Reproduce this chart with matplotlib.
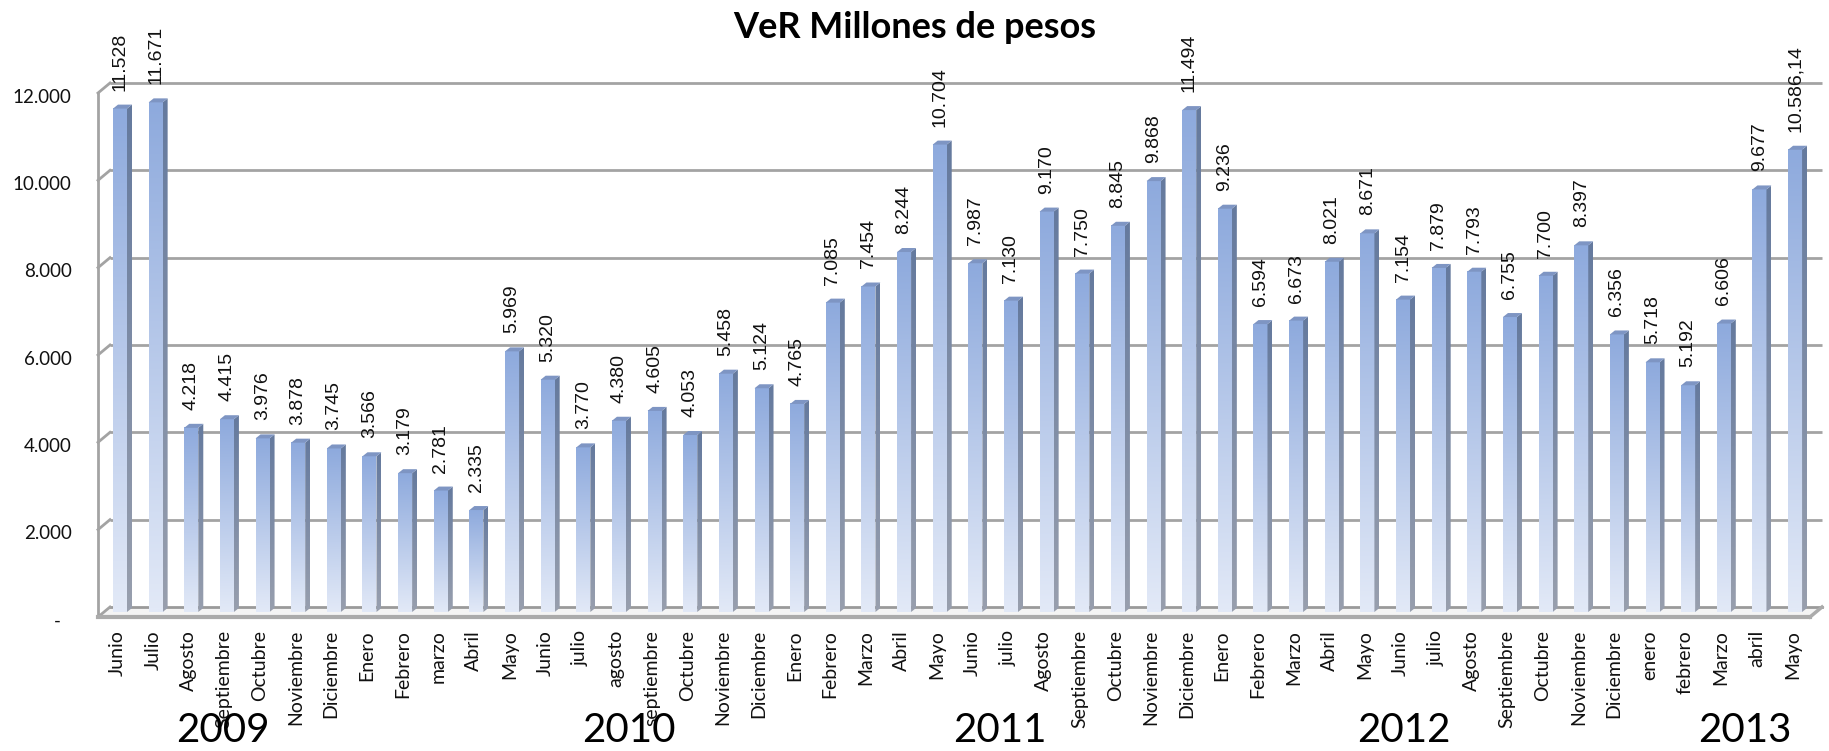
import numpy as np
import matplotlib
matplotlib.use("Agg")
import matplotlib.pyplot as plt
from matplotlib.patches import Polygon
from matplotlib.colors import to_rgb

# ---------------- data ----------------
months = ["Junio", "Julio", "Agosto", "Septiembre", "Octubre", "Noviembre", "Diciembre",
          "Enero", "Febrero", "marzo", "Abril", "Mayo", "Junio", "julio", "agosto",
          "septiembre", "Octubre", "Noviembre", "Diciembre",
          "Enero", "Febrero", "Marzo", "Abril", "Mayo", "Junio", "julio", "Agosto",
          "Septiembre", "Octubre", "Noviembre", "Diciembre",
          "Enero", "Febrero", "Marzo", "Abril", "Mayo", "Junio", "julio", "Agosto",
          "Septiembre", "Octubre", "Noviembre", "Diciembre",
          "enero", "febrero", "Marzo", "abril", "Mayo"]
values = [11528, 11671, 4218, 4415, 3976, 3878, 3745,
          3566, 3179, 2781, 2335, 5969, 5320, 3770, 4380, 4605, 4053, 5458, 5124,
          4765, 7085, 7454, 8244, 10704, 7987, 7130, 9170, 7750, 8845, 9868, 11494,
          9236, 6594, 6673, 8021, 8671, 7154, 7879, 7793, 6755, 7700, 8397, 6356,
          5718, 5192, 6606, 9677, 10586.14]
years = ["2009", "2010", "2011", "2012", "2013"]
yticks = [0, 2000, 4000, 6000, 8000, 10000, 12000]
title = "VeR Millones de pesos"


def fmt(v):
    if float(v).is_integer():
        return f"{int(v):,}".replace(",", ".")
    s = f"{v:,.2f}"
    return s.replace(",", "X").replace(".", ",").replace("X", ".")


def tick_fmt(v):
    return "-" if v == 0 else f"{int(v):,}".replace(",", ".")


# ---------------- layout ----------------
W, H, DPI = 1829, 751, 100
FONT = ["Lato", "DejaVu Sans"]
fig = plt.figure(figsize=(W / DPI, H / DPI), dpi=DPI)

px_left, px_right = 104, 1816     # mid plane x range (pixels)
px_y0, px_ytop = 612, 88           # mid plane y of 0 and 12000 (pixels from top)
ax = fig.add_axes([px_left / W, (H - px_y0) / H,
                   (px_right - px_left) / W, (px_y0 - px_ytop) / H])
ax.set_axis_off()

pitch = 35.64
first_c = 120
xl = (px_left - first_c) / pitch
xr = (px_right - first_c) / pitch
ymax = 12000
ppu_y = (px_y0 - px_ytop) / ymax   # pixels per unit y


def dx(px):
    return px / pitch


def dy(px):
    return px / ppu_y


# depth offsets: back plane and front plane relative to mid
bx, by = dx(6), dy(5)
fx, fy = -dx(6), -dy(5)

grid_c = "#a3a3a3"
# back wall gridlines + left diagonals
for t in yticks[1:]:
    ax.plot([xl + bx, xr + bx], [t + by, t + by], color=grid_c, lw=2, zorder=1,
            clip_on=False, solid_capstyle="butt")
    ax.plot([xl + fx, xl + bx], [t + fy, t + by], color=grid_c, lw=2, zorder=1,
            clip_on=False)
# floor
ax.plot([xl + bx, xr + bx], [0 + by, 0 + by], color="#9a9a9a", lw=2, zorder=1, clip_on=False)
ax.plot([xl + fx, xr + fx], [0 + fy, 0 + fy], color="#ababab", lw=3, zorder=6, clip_on=False)
ax.plot([xl + fx, xl + bx], [0 + fy, 0 + by], color=grid_c, lw=2, zorder=1, clip_on=False)
ax.plot([xr + fx, xr + bx], [0 + fy, 0 + by], color="#ababab", lw=2.5, zorder=6, clip_on=False)
# floor fill
ax.add_patch(Polygon([(xl + fx, fy), (xr + fx, fy), (xr + bx, by), (xl + bx, by)],
                     closed=True, facecolor="#f4f4f4", edgecolor="none", zorder=0.5,
                     clip_on=False))
# front vertical axis
ax.plot([xl + fx, xl + fx], [0 + fy, ymax + fy], color=grid_c, lw=2, zorder=1, clip_on=False)

# gradients
def grad(top, bottom, n=64):
    t = np.linspace(0, 1, n)[:, None]
    a = np.array(to_rgb(top))[None, :]
    b = np.array(to_rgb(bottom))[None, :]
    return (a * (1 - t) + b * t)[:, None, :]

front_grad = grad("#8eaadd", "#e2e9f7")
side_grad = grad("#657a9e", "#989fae")

w = 14 / pitch
sdx, sdy = dx(5), dy(4)

for i, v in enumerate(values):
    x0, x1 = i - w / 2, i + w / 2
    # front face
    ax.imshow(front_grad, extent=[x0, x1, 0, v], aspect="auto",
              interpolation="bilinear", zorder=3, clip_on=False)
    # side face
    side = Polygon([(x1, 0), (x1 + sdx, sdy), (x1 + sdx, v + sdy), (x1, v)],
                   closed=True, facecolor="none", edgecolor="none", zorder=3,
                   clip_on=False)
    ax.add_patch(side)
    im = ax.imshow(side_grad, extent=[x1, x1 + sdx, 0, v + sdy], aspect="auto",
                   interpolation="bilinear", zorder=3)
    im.set_clip_path(side)
    # top face
    ax.add_patch(Polygon([(x0, v), (x1, v), (x1 + sdx, v + sdy), (x0 + sdx, v + sdy)],
                         closed=True, facecolor="#7e95c3", edgecolor="none",
                         zorder=3.5, clip_on=False))
    # value label
    ax.annotate(fmt(v), (i, v), xytext=(0, 13), textcoords="offset points",
                rotation=90, ha="center", va="bottom", fontsize=14,
                family=["Liberation Sans", "DejaVu Sans"], color="#111111",
                zorder=7, annotation_clip=False)
    # month label
    ax.annotate(months[i], (i, 0), xytext=(-2, -13), textcoords="offset points",
                rotation=90, ha="center", va="top", fontsize=14,
                family=FONT, color="#111111", annotation_clip=False)

# y tick labels (front plane)
for t in yticks:
    off = -19 if t else -27
    ax.annotate(tick_fmt(t), (xl + fx, t + fy), xytext=(off, -3),
                textcoords="offset points", ha="right", va="center",
                fontsize=13.5, family=FONT, color="#111111", annotation_clip=False)

ax.set_xlim(xl, xr)
ax.set_ylim(0, ymax)

# year labels
year_px = [223, 629, 1000, 1404, 1745]
for yr, xp in zip(years, year_px):
    fig.text(xp / W, 1 - 731 / H, yr, ha="center", va="center", fontsize=29,
             family=FONT, color="#000000")

fig.text(0.5, 1 - 28 / H, title, ha="center", va="center", fontsize=26,
         weight="bold", family=FONT, color="#000000")

fig.savefig("out.png", dpi=DPI)
